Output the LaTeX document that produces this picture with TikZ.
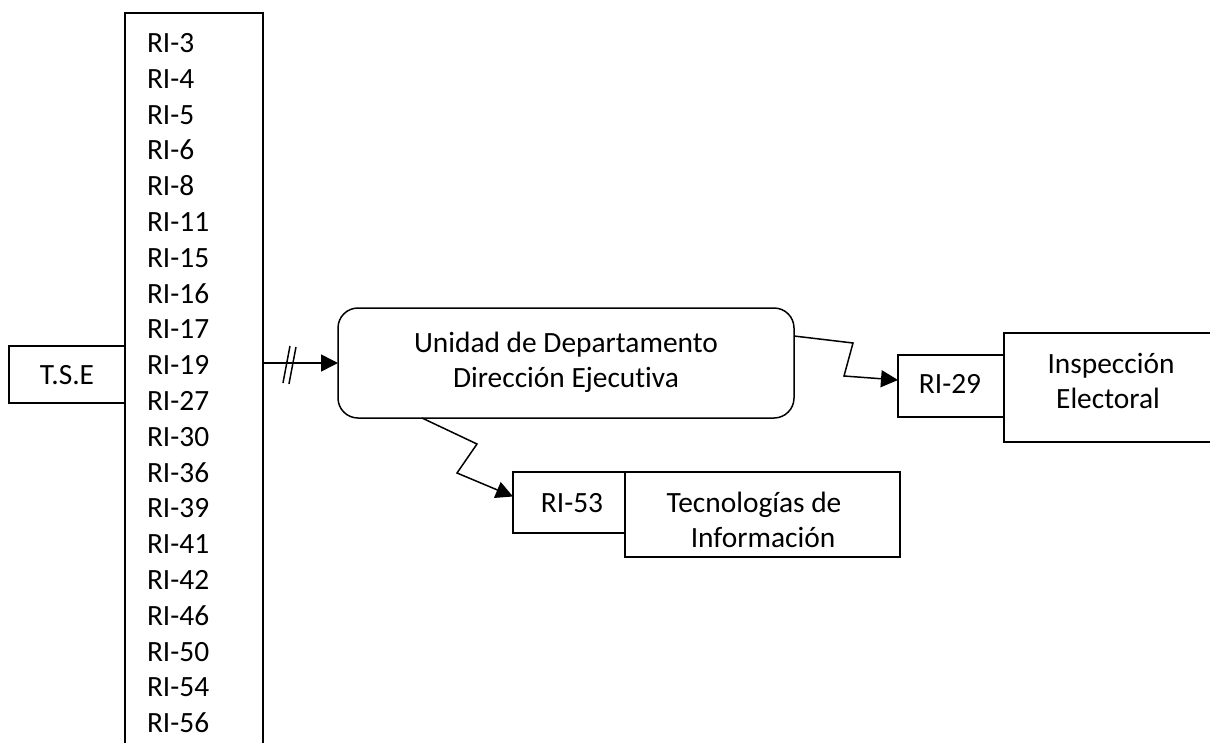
\documentclass[tikz,border=0pt]{standalone}
\usepackage{fontspec}
\setmainfont[Ligatures=NoCommon]{Carlito}
\usetikzlibrary{arrows.meta,calc}
\begin{document}
\begin{tikzpicture}[x=1pt,y=-1pt,
  every node/.style={inner sep=0pt, outer sep=0pt},
  box/.style={draw, line width=1.5pt, rectangle},
  roundbox/.style={box, rounded corners=20pt},
  lbl/.style={font=\fontsize{29.4}{36}\selectfont, anchor=base},
  item/.style={font=\fontsize{29.4}{36}\selectfont, anchor=base west},
  conn/.style={line width=1.5pt, -{Triangle[length=17pt,width=17pt]}},
  slash/.style={line width=1.5pt},
  ]
\useasboundingbox (0,0) rectangle (1210,742);
\clip (0,0) rectangle (1210,742);

% boxes
\node[box, minimum width=138pt, minimum height=757pt] (list) at (194,391.5) {};
\node[box, minimum width=116pt, minimum height=57pt] (tse) at (67,374.5) {};
\node[roundbox, minimum width=456pt, minimum height=110pt] (dud) at (566,363) {};
\node[box, minimum width=106pt, minimum height=62pt] (ri29) at (951,386) {};
\node[box, minimum width=226pt, minimum height=109pt] (insp) at (1117,387.5) {};
\node[box, minimum width=112pt, minimum height=61pt] (ri53) at (569,502.5) {};
\node[box, minimum width=275pt, minimum height=85pt] (tec) at (762.5,514.5) {};

% list of references
\foreach \t [count=\i from 0] in {3,4,5,6,8,11,15,16,17,19,27,30,36,39,41,42,46,50,54,56}
  \node[item] (li\t) at (147,52.5+35.8*\i) {RI-\t};

% labels
\node[lbl] (tsetxt) at (67,384) {T.S.E};
\node[lbl] (dud1) at (566,352) {Unidad de Departamento};
\node[lbl] (dud2) at (566,387) {Dirección Ejecutiva};
\node[lbl] (ri29txt) at (950,393) {RI-29};
\node[lbl] (insp1) at (1111,373) {Inspección};
\node[lbl] (insp2) at (1108,408) {Electoral};
\node[lbl] (ri53txt) at (572,512) {RI-53};
\node[lbl] (tec1) at (754,512) {Tecnologías de};
\node[lbl] (tec2) at (763,547) {Información};

% connectors
\draw[conn] (list.east |- dud.west) -- coordinate[pos=0.353] (brk) (dud.west);
\draw[slash] ($(brk)+(-6.5,20)$) -- ($(brk)+(0.5,-17)$);
\draw[slash] ($(brk)+(-0.5,21)$) -- ($(brk)+(6.5,-16)$);

\draw[conn] ($(dud.east)+(0,-27)$) -- ++(59,7) -- ++(-9,33) -- ($(ri29.west)+(0,-6)$);
\draw[conn] ($(dud.south)+(-144,0)$) -- ++(55,26) -- ++(-20,29) -- ($(ri53.west)+(0,-6)$);
\end{tikzpicture}
\end{document}
